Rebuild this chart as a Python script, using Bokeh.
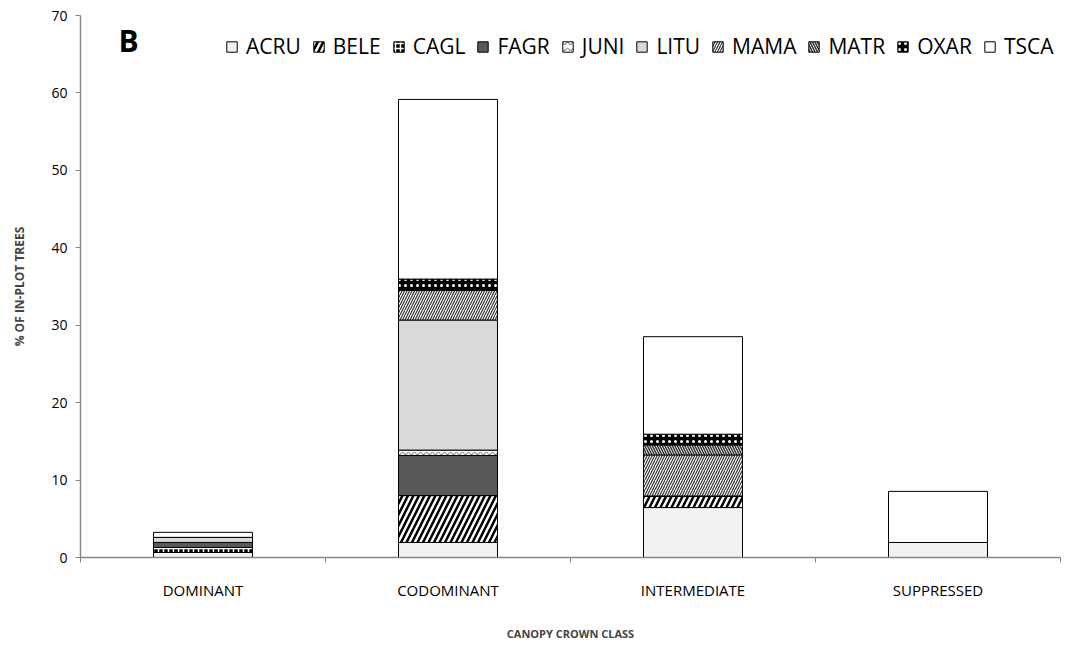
from bokeh.plotting import figure
from bokeh.models import ColumnDataSource, Range1d, FixedTicker, Legend, LegendItem, Label
from bokeh.embed import file_html
from bokeh.resources import INLINE

categories = ["DOMINANT", "CODOMINANT", "INTERMEDIATE", "SUPPRESSED"]
species = ["ACRU", "BELE", "CAGL", "FAGR", "JUNI", "LITU", "MAMA", "MATR", "OXAR", "TSCA"]

ACRU = [0.65, 1.94, 6.45, 1.94]
BELE = [0.0, 6.06, 1.50, 0.0]
CAGL = [0.65, 0.0, 0.0, 0.0]
FAGR = [0.65, 5.17, 0.0, 0.0]
JUNI = [0.0, 0.70, 0.0, 0.0]
LITU = [0.65, 16.80, 0.0, 0.0]
MAMA = [0.0, 3.87, 5.30, 0.0]
MATR = [0.0, 0.0, 1.29, 0.0]
OXAR = [0.0, 1.42, 1.38, 0.0]
TSCA = [0.65, 23.20, 12.60, 6.60]

y_ticks = [0, 10, 20, 30, 40, 50, 60, 70]

series = dict(ACRU=ACRU, BELE=BELE, CAGL=CAGL, FAGR=FAGR, JUNI=JUNI,
              LITU=LITU, MAMA=MAMA, MATR=MATR, OXAR=OXAR, TSCA=TSCA)

styles = {
    "ACRU": dict(fill_color="#f2f2f2", hatch_pattern=" ", hatch_color="black", hatch_weight=1, hatch_scale=6),
    "BELE": dict(fill_color="black", hatch_pattern="/", hatch_color="white", hatch_weight=2.5, hatch_scale=11),
    "CAGL": dict(fill_color="black", hatch_pattern="+", hatch_color="white", hatch_weight=1.5, hatch_scale=5),
    "FAGR": dict(fill_color="#595959", hatch_pattern=" ", hatch_color="black", hatch_weight=1, hatch_scale=6),
    "JUNI": dict(fill_color="white", hatch_pattern="v", hatch_color="#555555", hatch_weight=1, hatch_scale=6),
    "LITU": dict(fill_color="#d9d9d9", hatch_pattern=" ", hatch_color="black", hatch_weight=1, hatch_scale=6),
    "MAMA": dict(fill_color="white", hatch_pattern="/", hatch_color="#333333", hatch_weight=1.2, hatch_scale=5),
    "MATR": dict(fill_color="white", hatch_pattern="\\", hatch_color="#333333", hatch_weight=1.5, hatch_scale=5),
    "OXAR": dict(fill_color="black", hatch_pattern=".", hatch_color="white", hatch_weight=2.5, hatch_scale=6),
    "TSCA": dict(fill_color="white", hatch_pattern=" ", hatch_color="black", hatch_weight=1, hatch_scale=6),
}

FONT = "Open Sans"

p = figure(width=1085, height=645, output_backend="svg", toolbar_location=None,
           x_range=Range1d(0, 4), y_range=Range1d(0, 70),
           min_border_left=80, min_border_right=25, min_border_top=15, min_border_bottom=88)
p.outline_line_color = None
p.xgrid.grid_line_color = None
p.ygrid.grid_line_color = None
p.background_fill_color = "white"

data = dict(x=[i + 0.5 for i in range(len(categories))])
data.update(series)
src = ColumnDataSource(data)

renderers = p.vbar_stack(
    species, x="x", width=0.404, source=src,
    fill_color=[styles[s]["fill_color"] for s in species],
    hatch_pattern=[styles[s]["hatch_pattern"] for s in species],
    hatch_color=[styles[s]["hatch_color"] for s in species],
    hatch_weight=[styles[s]["hatch_weight"] for s in species],
    hatch_scale=[styles[s]["hatch_scale"] for s in species],
    line_color="black", line_width=1,
)

items = [LegendItem(label=s, renderers=[r]) for s, r in zip(species, renderers)]
legend = Legend(items=items, orientation="horizontal", location=(145, 497),
                glyph_width=13, glyph_height=13, label_standoff=8, spacing=11,
                padding=0, margin=0, border_line_color=None, background_fill_alpha=0,
                label_text_font=FONT, label_text_font_size="21px", label_text_color="black",
                label_height=20)
p.add_layout(legend)

p.add_layout(Label(x=0.155, y=66.8, text="B", text_font=FONT, text_font_style="bold",
                   text_font_size="30px", text_color="black", text_baseline="alphabetic"))

# x axis
p.xaxis.ticker = FixedTicker(ticks=[i + 0.5 for i in range(len(categories))],
                             minor_ticks=list(range(len(categories) + 1)))
p.xaxis.major_label_overrides = {i + 0.5: c for i, c in enumerate(categories)}
p.xaxis.major_tick_out = 0
p.xaxis.major_tick_in = 0
p.xaxis.minor_tick_out = 5
p.xaxis.minor_tick_in = 0
p.xaxis.minor_tick_line_color = "#868686"
p.xaxis.axis_line_color = "#868686"
p.xaxis.axis_line_width = 1.5
p.xaxis.major_label_text_font = FONT
p.xaxis.major_label_text_font_size = "15px"
p.xaxis.major_label_text_color = "black"
p.xaxis.major_label_standoff = 17
p.xaxis.axis_label = "CANOPY CROWN CLASS"
p.xaxis.axis_label_text_font = FONT
p.xaxis.axis_label_text_font_style = "bold"
p.xaxis.axis_label_text_font_size = "11px"
p.xaxis.axis_label_standoff = 23

# y axis
p.yaxis.ticker = FixedTicker(ticks=y_ticks, minor_ticks=[])
p.yaxis.major_tick_out = 5
p.yaxis.major_tick_in = 0
p.yaxis.major_tick_line_color = "#868686"
p.yaxis.axis_line_color = "#868686"
p.yaxis.axis_line_width = 1.5
p.yaxis.minor_tick_line_color = None
p.yaxis.major_label_text_font = FONT
p.yaxis.major_label_text_font_size = "14px"
p.yaxis.major_label_text_color = "black"
p.yaxis.major_label_standoff = 8
p.yaxis.axis_label = "% OF IN-PLOT TREES"
p.yaxis.axis_label_text_font = FONT
p.yaxis.axis_label_text_font_style = "bold"
p.yaxis.axis_label_text_font_size = "12px"
p.yaxis.axis_label_standoff = 20

open("out.html", "w").write(file_html(p, INLINE))
